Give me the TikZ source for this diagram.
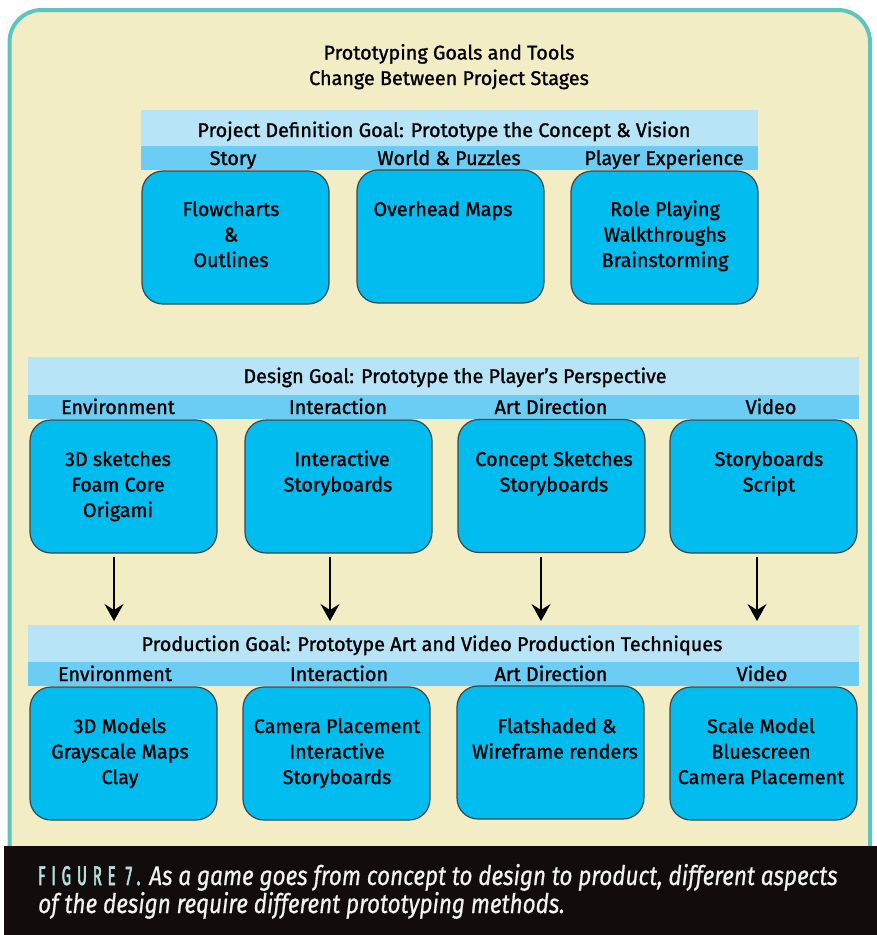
\documentclass[tikz,border=0pt]{standalone}
\usepackage{fontspec}
\setmainfont{Fira Sans}[FakeBold=1.3]
\newfontfamily\capfont[FakeStretch=0.835,FakeBold=0.6]{Fira Sans}
\newfontfamily\figfont[FakeStretch=0.55,FakeBold=2.2,LetterSpace=22]{Fira Sans}
\usetikzlibrary{arrows.meta}
\definecolor{cream}{HTML}{F3EDC5}
\definecolor{teal}{HTML}{5EC5BE}
\definecolor{bandA}{HTML}{B8E4F8}
\definecolor{bandB}{HTML}{6BCDF4}
\definecolor{boxfill}{HTML}{00BCEF}
\definecolor{boxline}{HTML}{444444}
\definecolor{capbg}{HTML}{120C0D}
\definecolor{figcol}{HTML}{B5DEDC}
\definecolor{captxt}{HTML}{F2F2F2}
\tikzset{
  tbox/.style={draw=boxline, line width=1.2pt, fill=boxfill, rounded corners=21pt, minimum width=187pt, minimum height=133pt, inner sep=0pt},
  btxt/.style={font=\fontsize{19.8}{25.5}\selectfont, align=center, anchor=base, inner sep=0pt},
  lbl/.style={font=\fontsize{19.8}{22}\selectfont, anchor=base, inner sep=0pt},
  arr/.style={-{Stealth[length=17pt,width=19pt,inset=6pt]}, line width=1.3pt, black},
}
\begin{document}
\begin{tikzpicture}[x=1pt,y=-1pt]
\useasboundingbox (0,0) rectangle (877,935);
\fill[white] (0,0) rectangle (877,935);
% outer frame
\draw[teal, line width=4pt, fill=cream, rounded corners=32pt] (9.5,10) rectangle (870,905);
\fill[capbg] (4,846) rectangle (877,935);
% title
\node[btxt] (title) at (449,85) {Prototyping Goals and Tools\\Change Between Project Stages};
% ---- section 1
\fill[bandA] (141,110) rectangle (758,146);
\fill[bandB] (141,146) rectangle (758,170);
\node[lbl] (h1) at (444,137) {Project Definition Goal: Prototype the Concept \& Vision};
\node[lbl] (s1a) at (233,165) {Story};
\node[lbl] (s1b) at (449,165) {World \& Puzzles};
\node[lbl] (s1c) at (664,165) {Player Experience};
\node[tbox] (p1) at (235.5,237.5) {};
\node[tbox] (p2) at (450.5,236.5) {};
\node[tbox] (p3) at (664.5,237.5) {};
\node[btxt] (t11) at (231,267) {Flowcharts\\\&\\Outlines};
\node[btxt] (t12) at (443,216) {Overhead Maps};
\node[btxt] (t13) at (665,267) {Role Playing\\Walkthroughs\\Brainstorming};
% ---- section 2
\fill[bandA] (28,357) rectangle (859,395);
\fill[bandB] (28,395) rectangle (859,419);
\node[lbl] (h2) at (455,383) {Design Goal: Prototype the Player's Perspective};
\node[lbl] (s2a) at (118,414) {Environment};
\node[lbl] (s2b) at (338,414) {Interaction};
\node[lbl] (s2c) at (551,414) {Art Direction};
\node[lbl] (s2d) at (771,414) {Video};
\node[tbox] (d1) at (123.5,486.5) {};
\node[tbox] (d2) at (338.5,486.5) {};
\node[tbox] (d3) at (551.5,486) {};
\node[tbox] (d4) at (763.5,486.5) {};
\node[btxt] (t21) at (118,517) {3D sketches\\Foam Core\\Origami};
\node[btxt] (t22) at (338,491.5) {\hspace*{8pt}Interactive\\Storyboards};
\node[btxt] (t23) at (554,491.5) {Concept Sketches\\Storyboards};
\node[btxt] (t24) at (769,491.5) {Storyboards\\Script};
% ---- section 3
\fill[bandA] (28,625) rectangle (859,662);
\fill[bandB] (28,662) rectangle (859,686);
\node[lbl] (h3) at (432,651) {Production Goal: Prototype Art and Video Production Techniques};
\node[lbl] (s3a) at (115,681) {Environment};
\node[lbl] (s3b) at (339,681) {Interaction};
\node[lbl] (s3c) at (551,681) {Art Direction};
\node[lbl] (s3d) at (762,681) {Video};
\node[tbox] (r1) at (123.5,753.5) {};
\node[tbox] (r2) at (336.5,753.5) {};
\node[tbox] (r3) at (550.5,752.5) {};
\node[tbox] (r4) at (763.5,753.5) {};
\node[btxt] (t31) at (120,784) {3D Models\\Grayscale Maps\\Clay};
\node[btxt] (t32) at (337,784) {Camera Placement\\Interactive\\Storyboards};
\node[btxt] (t33) at (555,758.5) {\hspace*{4pt}Flatshaded \&\\Wireframe renders};
\node[btxt] (t34) at (761,784) {Scale Model\\Bluescreen\\Camera Placement};
% arrows
\coordinate (a1s) at (114,557); \coordinate (a1e) at (114,621);
\coordinate (a2s) at (330,557); \coordinate (a2e) at (330,621);
\coordinate (a3s) at (541,557); \coordinate (a3e) at (541,621);
\coordinate (a4s) at (757,557); \coordinate (a4e) at (757,621);
\draw[arr] (a1s) -- (a1e);
\draw[arr] (a2s) -- (a2e);
\draw[arr] (a3s) -- (a3e);
\draw[arr] (a4s) -- (a4e);
% caption
\node[anchor=base west, inner sep=0pt, align=left, font=\fontsize{27}{28}\selectfont, text=captxt] (cap) at (38,913)
  {{\figfont\color{figcol}FIGURE 7.}\hspace{9pt}{\capfont\itshape As a game goes from concept to design to product, different aspects}\\
   {\capfont\itshape of the design require different prototyping methods.}};
\end{tikzpicture}
\end{document}
